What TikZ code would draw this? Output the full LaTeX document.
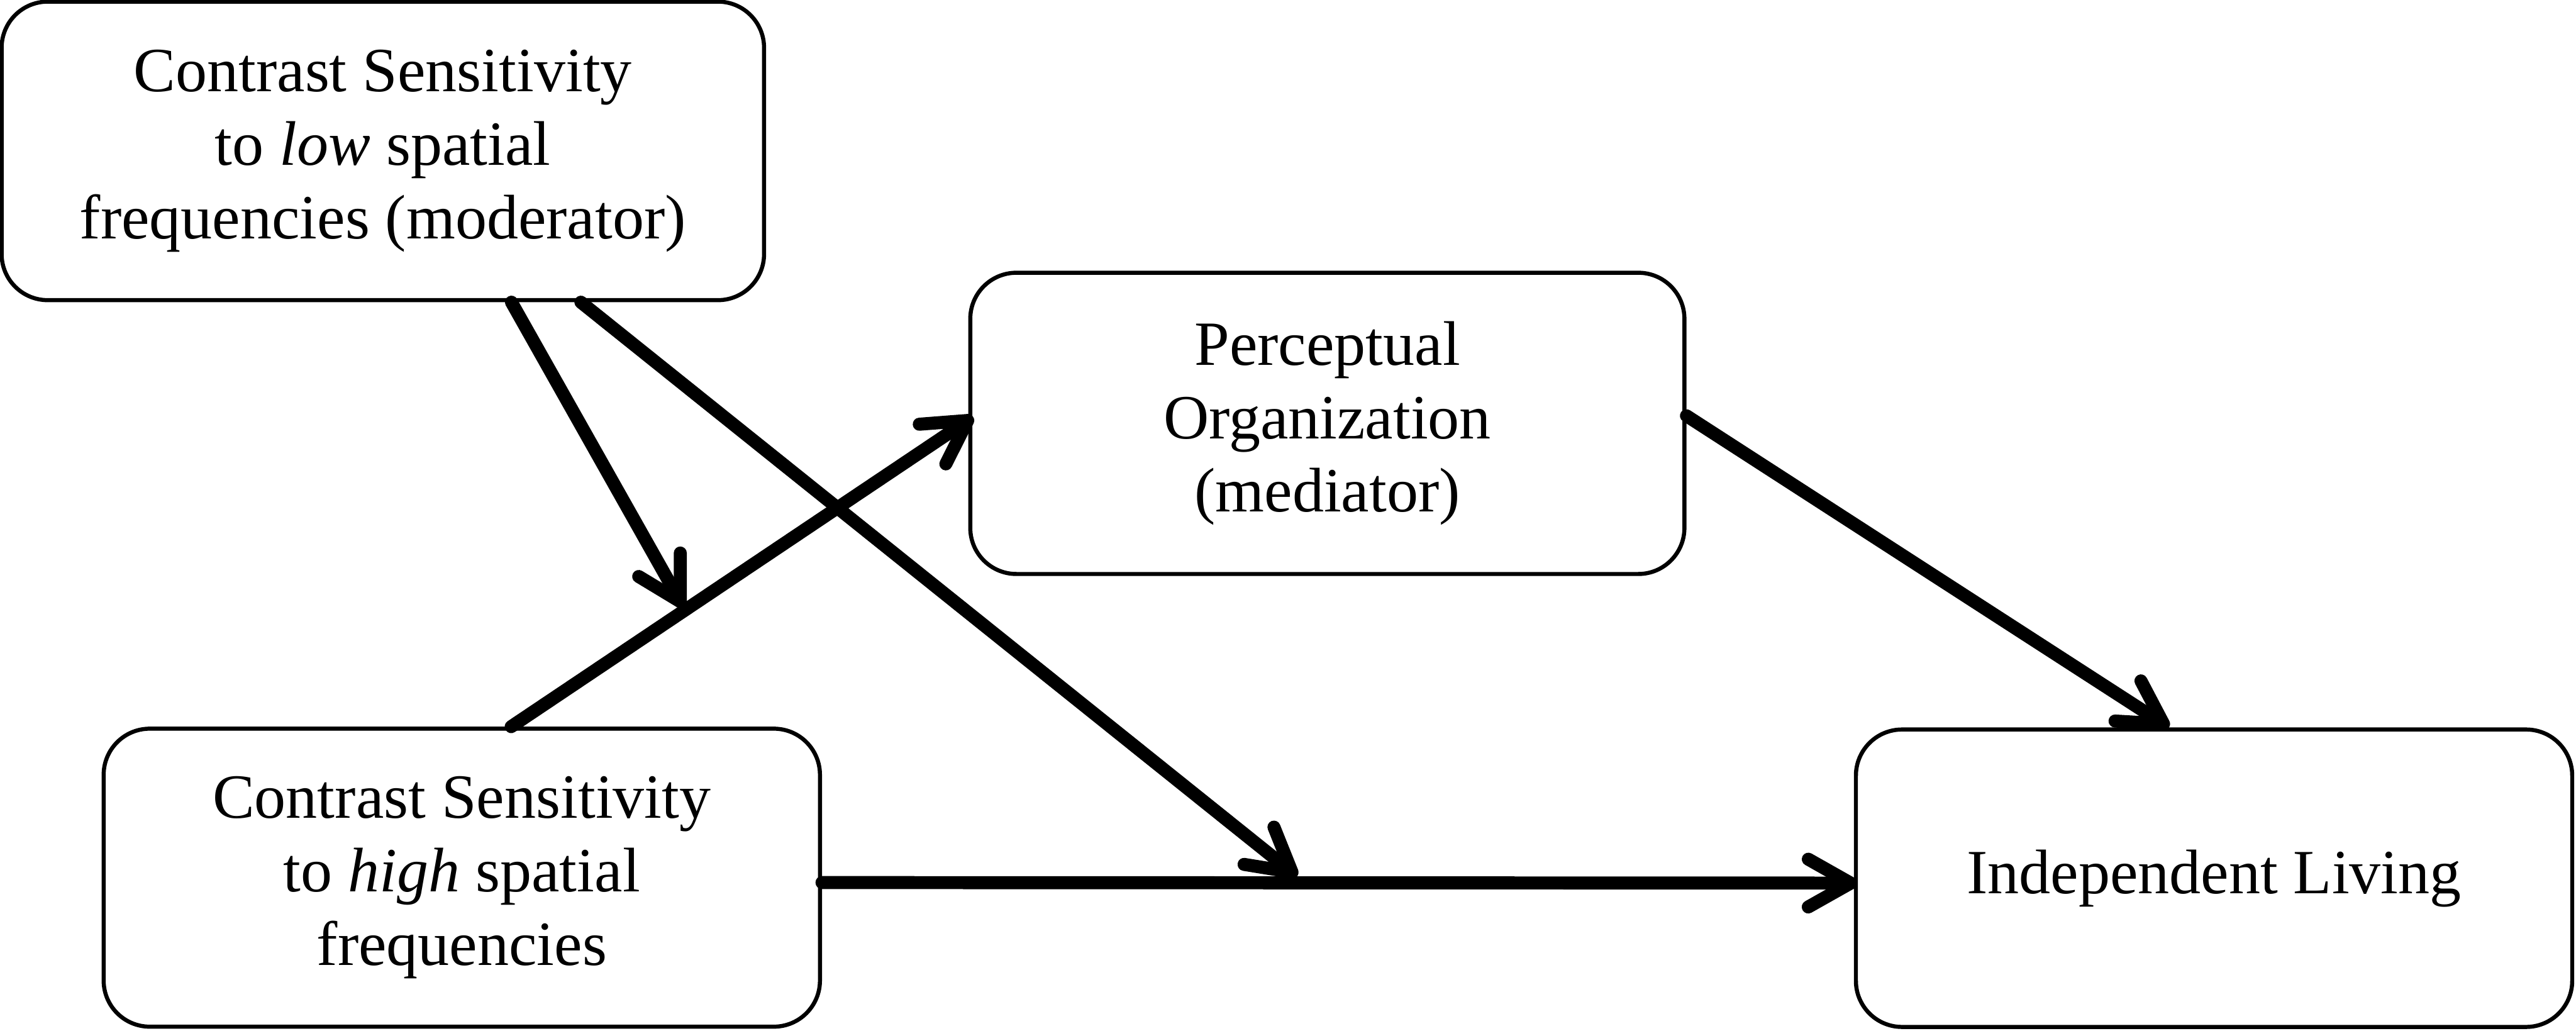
\documentclass[tikz,border=0pt]{standalone}
\usepackage{fontspec}
\setmainfont{Liberation Serif}
\usetikzlibrary{arrows.meta,calc}
\begin{document}
\begin{tikzpicture}[
  box/.style={draw=black, line width=0.075cm, rounded corners=0.85cm, fill=white,
    align=center, inner sep=0pt, font=\fontsize{33}{38.5}\selectfont},
  arr/.style={line width=0.24cm, line cap=round,
    -{Straight Barb[length=0.78cm,width=0.88cm,round]}}
]
\useasboundingbox (0,0) rectangle (47.47,-18.99);
\node[box, minimum width=14.05cm, minimum height=5.50cm] (A) at (7.055,-2.78)
  {Contrast Sensitivity\\to \textit{low} spatial\\frequencies (moderator)};
\node[box, minimum width=13.16cm, minimum height=5.55cm] (B) at (24.46,-7.80)
  {Perceptual\\Organization\\(mediator)};
\node[box, minimum width=13.20cm, minimum height=5.49cm] (C) at (8.51,-16.17)
  {Contrast Sensitivity\\to \textit{high} spatial\\frequencies};
\node[box, minimum width=13.20cm, minimum height=5.48cm] (D) at (40.80,-16.18)
  {Independent Living};
% C -> B
\coordinate (cbs) at ([xshift=0.91cm]C.north);
\coordinate (cbe) at ([xshift=0.09cm,yshift=0.12cm]B.west);
\draw[arr] (cbs) -- (cbe);
% C -> D
\coordinate (cds) at ([yshift=-0.09cm]C.east);
\coordinate (cde) at ([xshift=0.06cm,yshift=-0.09cm]D.west);
\draw[arr] (cds) -- (cde);
% B -> D
\draw[arr] ([yshift=0.14cm]B.east) -- ([xshift=-0.83cm]D.north);
% A -> mid of C->B
\coordinate (m1) at ($(cbs)!0.373!(cbe)+(0,0.07)$);
\draw[arr] ([xshift=2.37cm]A.south) -- (m1);
% A -> mid of C->D
\coordinate (m2) at ($(cds)!0.459!(cde)+(0,0.12)$);
\draw[arr] ([xshift=3.65cm]A.south) -- (m2);
\end{tikzpicture}
\end{document}
